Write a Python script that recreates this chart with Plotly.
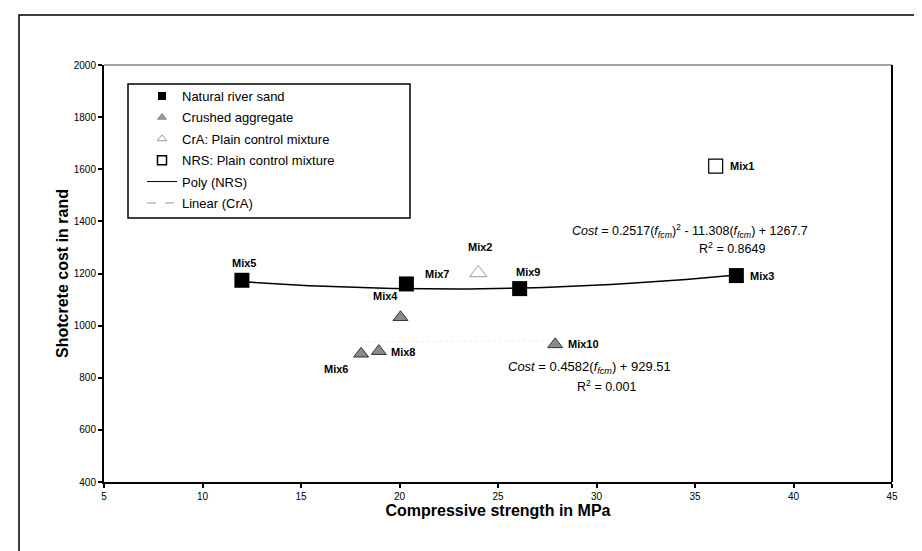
import numpy as np
import plotly.graph_objects as go

# ---------------- data ----------------
NRS_X = [12.0, 20.35, 26.1, 37.1]
NRS_Y = [1174, 1160, 1142, 1192]
NRS_LBL = ["Mix5", "Mix7", "Mix9", "Mix3"]

CRA_X = [20.05, 18.05, 18.95, 27.9]
CRA_Y = [1032, 892, 902, 928]
CRA_LBL = ["Mix4", "Mix6", "Mix8", "Mix10"]

CRA_CTRL_X = [24.0]
CRA_CTRL_Y = [1202]
CRA_CTRL_LBL = ["Mix2"]

NRS_CTRL_X = [36.05]
NRS_CTRL_Y = [1612]
NRS_CTRL_LBL = ["Mix1"]

POLY_COEF = [0.2517, -11.308, 1267.7]   # Poly (NRS) trendline, as printed
LIN_COEF = [0.4582, 929.51]             # Linear (CrA) trendline, as printed

X_TICKS = [5, 10, 15, 20, 25, 30, 35, 40, 45]
Y_TICKS = [400, 600, 800, 1000, 1200, 1400, 1600, 1800, 2000]

# ---------------- layout geometry (pixels) ----------------
W, H = 922, 551
L, R, T, B = 96, 884, 57, 474


def pxx(px):
    return (px - L) / (R - L)


def pxy(py):
    return (B - py) / (B - T)


FONT = "Liberation Sans, Arial, sans-serif"

fig = go.Figure()

# trendlines
xp = np.linspace(min(NRS_X), max(NRS_X), 60)
fig.add_trace(go.Scatter(x=xp, y=np.polyval(POLY_COEF, xp), mode="lines",
                         line=dict(color="black", width=1.5),
                         showlegend=False, hoverinfo="skip"))
xl = np.array([min(CRA_X), max(CRA_X)])
fig.add_trace(go.Scatter(x=xl, y=np.polyval(LIN_COEF, xl), mode="lines",
                         line=dict(color="#ececec", width=1, dash="dot"),
                         showlegend=False, hoverinfo="skip"))

# markers
fig.add_trace(go.Scatter(x=NRS_X, y=NRS_Y, mode="markers",
                         marker=dict(symbol="square", size=15, color="black"),
                         showlegend=False))
fig.add_trace(go.Scatter(x=CRA_X, y=CRA_Y, mode="markers",
                         marker=dict(symbol="triangle-up", size=13, color="#8a8a8a",
                                     line=dict(color="#333333", width=1)),
                         showlegend=False))
fig.add_trace(go.Scatter(x=CRA_CTRL_X, y=CRA_CTRL_Y, mode="markers",
                         marker=dict(symbol="triangle-up-open", size=15, color="#9a9a9a",
                                     line=dict(width=1)),
                         showlegend=False))
fig.add_trace(go.Scatter(x=NRS_CTRL_X, y=NRS_CTRL_Y, mode="markers",
                         marker=dict(symbol="square-open", size=14, color="black",
                                     line=dict(width=1.2)),
                         showlegend=False))

# legend-only entries (small symbols as in the original)
LEG = [
    ("Natural river sand", "markers", dict(symbol="square", size=8, color="black"), None),
    ("Crushed aggregate", "markers", dict(symbol="triangle-up", size=8, color="#9a9a9a",
                                          line=dict(color="#555", width=0.5)), None),
    ("CrA: Plain control mixture", "markers", dict(symbol="triangle-up-open", size=8,
                                                   color="#999"), None),
    ("NRS: Plain control mixture", "markers", dict(symbol="square-open", size=9,
                                                   color="black", line=dict(width=1.5)), None),
    ("Poly (NRS)", "lines", None, dict(color="black", width=1)),
    ("Linear (CrA)", "lines", None, dict(color="#999", width=1, dash="dash")),
]
for i, (nm, md, mk, ln) in enumerate(LEG):
    kw = dict(x=[None], y=[None], mode=md, name=nm, legendgroup="g%d" % i)
    if mk:
        kw["marker"] = mk
    if ln:
        kw["line"] = ln
    fig.add_trace(go.Scatter(**kw))

# point labels
ann = []
lab_font = dict(family=FONT, size=11, color="black")
label_pos = {
    "Mix5": (12.1, 1240, "center"),
    "Mix7": (21.9, 1200, "center"),
    "Mix9": (26.5, 1206, "center"),
    "Mix3": (37.7, 1192, "left"),
    "Mix4": (19.3, 1112, "center"),
    "Mix6": (16.8, 832, "center"),
    "Mix8": (19.45, 900, "left"),
    "Mix10": (28.45, 928, "left"),
    "Mix2": (24.1, 1300, "center"),
    "Mix1": (36.7, 1612, "left"),
}
for name in NRS_LBL + CRA_LBL + CRA_CTRL_LBL + NRS_CTRL_LBL:
    x, y, anc = label_pos[name]
    ann.append(dict(x=x, y=y, xref="x", yref="y", text="<b>" + name + "</b>",
                    showarrow=False, xanchor=anc, yanchor="middle", font=lab_font))

eq_font = dict(family=FONT, size=12.5, color="black")
f_sub = "<i>f</i><sub><i>fcm</i></sub>"
eq1 = ("<i>Cost</i> = %.4f(%s)<sup>2</sup> - %.3f(%s) + %.1f"
       % (POLY_COEF[0], f_sub, -POLY_COEF[1], f_sub, POLY_COEF[2]))
eq2 = "<i>Cost</i> = %.4f(%s) + %.2f" % (LIN_COEF[0], f_sub, LIN_COEF[1])
ann.append(dict(x=pxx(562), y=pxy(223), xref="paper", yref="paper", text=eq1,
                xanchor="left", yanchor="middle", showarrow=False, font=eq_font))
ann.append(dict(x=pxx(724), y=pxy(240), xref="paper", yref="paper",
                text="R<sup>2</sup> = 0.8649", xanchor="center", yanchor="middle",
                showarrow=False, font=eq_font))
ann.append(dict(x=pxx(498), y=pxy(360), xref="paper", yref="paper", text=eq2,
                xanchor="left", yanchor="middle", showarrow=False,
                font=dict(family=FONT, size=13, color="black")))
ann.append(dict(x=pxx(598), y=pxy(378), xref="paper", yref="paper",
                text="R<sup>2</sup> = 0.001", xanchor="center", yanchor="middle",
                showarrow=False, font=eq_font))

shapes = [
    # outer chart border
    dict(type="rect", xref="paper", yref="paper", x0=pxx(11), x1=pxx(915),
         y0=pxy(560), y1=pxy(7), line=dict(color="black", width=1.5)),
    # top and right frame lines
    dict(type="line", xref="paper", yref="paper", x0=0, x1=1, y0=1, y1=1,
         line=dict(color="#444", width=1)),
    dict(type="line", xref="paper", yref="paper", x0=1, x1=1, y0=0, y1=1,
         line=dict(color="black", width=2)),
    # legend box
    dict(type="rect", xref="paper", yref="paper", x0=pxx(120), x1=pxx(402),
         y0=pxy(210), y1=pxy(76), line=dict(color="black", width=1.5),
         fillcolor="white", layer="below"),
]

fig.update_layout(
    width=W, height=H,
    margin=dict(l=L, r=W - R, t=T, b=H - B, pad=0),
    paper_bgcolor="white", plot_bgcolor="white",
    font=dict(family=FONT, color="black"),
    showlegend=True,
    legend=dict(x=pxx(134), y=pxy(73), xanchor="left", yanchor="top",
                bgcolor="rgba(0,0,0,0)", borderwidth=0,
                font=dict(family=FONT, size=13, color="black"),
                itemwidth=30, tracegroupgap=1.5),
    annotations=ann,
    shapes=shapes,
    xaxis=dict(range=[5, 45], tickvals=X_TICKS, ticktext=[str(v) for v in X_TICKS],
               showgrid=False, zeroline=False, showline=True, linecolor="black",
               linewidth=2, ticks="outside", ticklen=4, tickwidth=1.5,
               tickcolor="black", tickfont=dict(family=FONT, size=10),
               title=dict(text="<b>Compressive strength in MPa</b>",
                          font=dict(family=FONT, size=16), standoff=4)),
    yaxis=dict(range=[400, 2000], tickvals=Y_TICKS, ticktext=[str(v) for v in Y_TICKS],
               showgrid=False, zeroline=False, showline=True, linecolor="black",
               linewidth=2, ticks="outside", ticklen=4, tickwidth=1.5,
               tickcolor="black", tickfont=dict(family=FONT, size=10),
               title=dict(text="<b>Shotcrete cost in rand</b>",
                          font=dict(family=FONT, size=16), standoff=1)),
)

fig.write_html("out.html")
